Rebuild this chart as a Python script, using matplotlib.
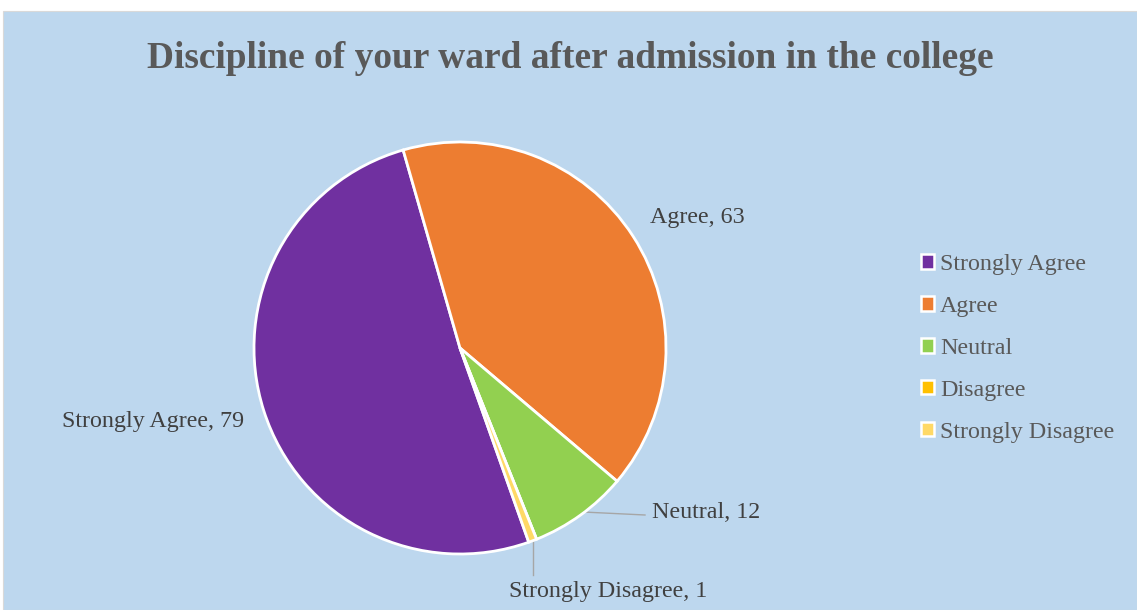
import numpy as np
import matplotlib
matplotlib.use("Agg")
import matplotlib.pyplot as plt
from matplotlib.patches import Rectangle, Patch

categories = ["Strongly Agree", "Agree", "Neutral", "Disagree", "Strongly Disagree"]
values = [79, 63, 12, 0, 1]
colors = ["#7030A0", "#ED7D31", "#92D050", "#FFC000", "#FFD966"]
title = "Discipline of your ward after admission in the college"

W, H = 1137, 610
fig = plt.figure(figsize=(W / 100, H / 100), dpi=100, facecolor="white")
ax = fig.add_axes([0, 0, 1, 1])
ax.add_patch(Rectangle((3, 0), W - 3, H - 11, facecolor="#BDD7EE", edgecolor="#D9D9D9",
                       linewidth=0.8, zorder=0))

cx, cy, r = 460, H - 348, 206
wedges, _ = ax.pie(values, colors=colors, startangle=-70.5, counterclock=False,
                   center=(cx, cy), radius=r,
                   wedgeprops=dict(edgecolor="white", linewidth=2.0, zorder=2))
ax.set_xlim(0, W)
ax.set_ylim(0, H)
ax.set_aspect("equal")
ax.axis("off")

serif = ["Liberation Serif", "DejaVu Serif"]
ax.text(570, H - 59, title, ha="center", va="center", fontsize=26.9, fontweight="bold",
        color="#595959", family=serif)

# data labels
label_pos = {
    "Strongly Agree": (153, 422, None),
    "Agree": (697, 218, None),
    "Neutral": (706, 512, [(583, 512), (645, 515)]),
    "Strongly Disagree": (608, 591, [(533, 540), (533, 575)]),
}
for cat, val in zip(categories, values):
    if cat not in label_pos:
        continue
    x, y, line = label_pos[cat]
    ax.text(x, H - y, f"{cat}, {val}", ha="center", va="center", fontsize=17.3,
            color="#404040", family=serif)
    if line:
        xs = [p[0] for p in line]
        ys = [H - p[1] for p in line]
        ax.plot(xs, ys, color="#A6A6A6", linewidth=1.0, zorder=1)

handles = [Patch(facecolor=c, edgecolor="white", linewidth=1.8) for c in colors]
leg = ax.legend(handles, categories, loc="upper left", bbox_to_anchor=(921 / W, 1 - 254 / H),
                bbox_transform=fig.transFigure, frameon=False,
                prop=dict(family=serif, size=17.3), labelcolor="#595959",
                handlelength=0.55, handleheight=0.55, handletextpad=0.25, labelspacing=0.87,
                borderpad=0, borderaxespad=0)

fig.savefig("out.png", dpi=100, facecolor="white")
